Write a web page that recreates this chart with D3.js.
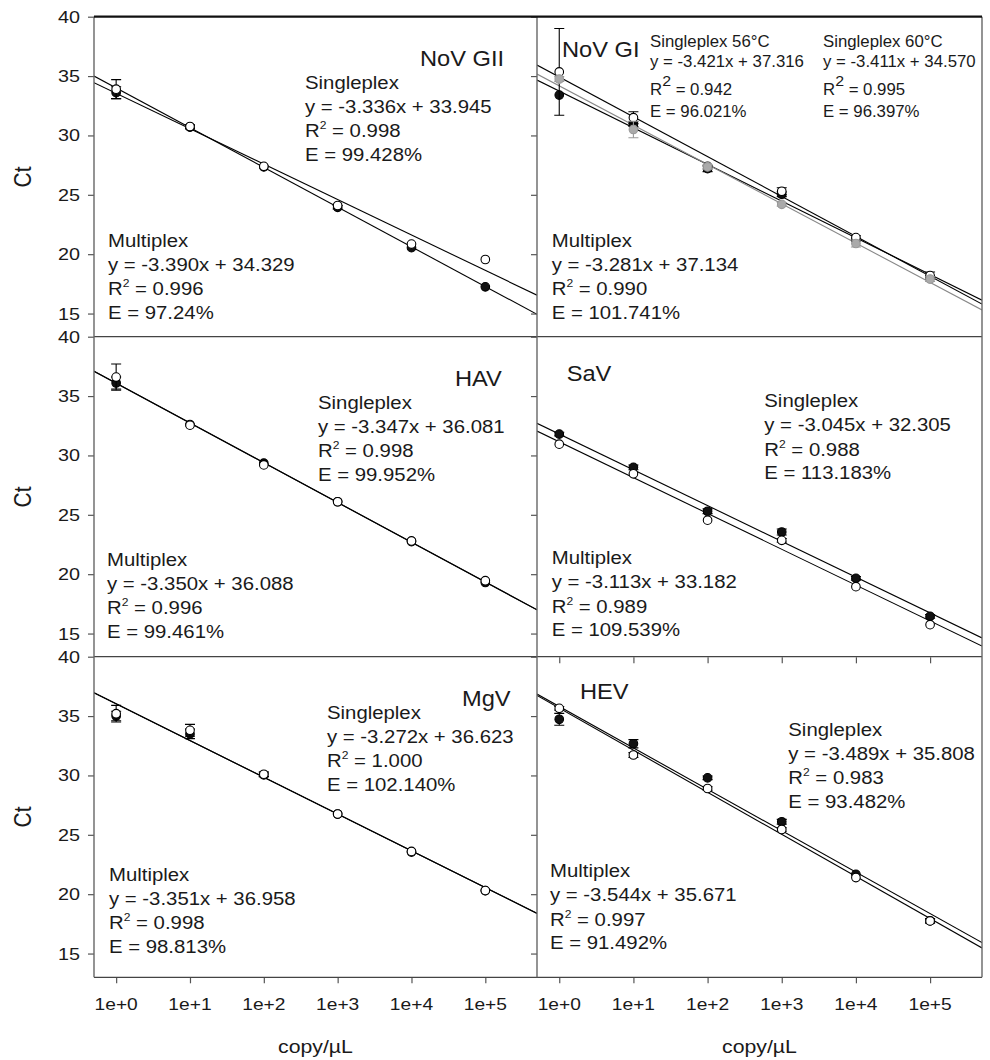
<!DOCTYPE html>
<meta charset="utf-8">
<style>
body { margin: 0; background: #fff; }
svg text { font-family: "Liberation Sans", Arial, sans-serif; fill: #1a1a1a; }
</style>
<script src="https://d3js.org/d3.v7.min.js"></script>
<body>
<svg id="chart" width="990" height="1060"></svg>
<script>
// x values (copy/uL) and axis ticks
var copies = [1, 10, 100, 1000, 10000, 100000];
var xTickLabels = ["1e+0", "1e+1", "1e+2", "1e+3", "1e+4", "1e+5"];
var ctTicks = [15, 20, 25, 30, 35, 40];

// NoV GII
var novGIIMulti = [33.6, 30.7, 27.35, 23.95, 20.55, 17.25];
var novGIIMultiErr = [0.5, 0.15, 0.1, 0.15, 0.1, 0.1];
var novGIISingle = [33.9, 30.75, 27.4, 24.1, 20.85, 19.55];
var novGIISingleErr = [0.8, 0.15, 0.1, 0.1, 0.1, 0.1];
var novGIIFits = [[-3.345, 34.0], [-2.983, 33.55]];   // [slope, intercept] as drawn

// NoV GI
var novGIMulti = [33.4, 30.95, 27.2, 25.05, 21.2, 18.05];
var novGIMultiErr = [0, 0.2, 0.25, 0.2, 0.1, 0.1];
var novGI56 = [35.35, 31.5, 27.4, 25.3, 21.4, 18.2];
var novGI56Err = [3.65, 0.5, 0.1, 0.3, 0.15, 0.3];
var novGI60 = [34.75, 30.5, 27.35, 24.2, 20.9, 17.9];
var novGI60Err = [0.2, 0.7, 0.2, 0.15, 0.3, 0.2];
var novGIFits = [[-3.09, 33.74], [-3.355, 34.92]];
var novGI60Fit = [-3.312, 34.18];

// HAV
var havMulti = [36.1, 32.6, 29.35, 26.1, 22.75, 19.3];
var havMultiErr = [0.5, 0.1, 0.1, 0.1, 0.1, 0.1];
var havSingle = [36.6, 32.55, 29.2, 26.1, 22.8, 19.45];
var havSingleErr = [1.1, 0.1, 0.1, 0.1, 0.1, 0.1];
var havFits = [[-3.350, 36.088], [-3.347, 36.081]];

// SaV
var savMulti = [31.8, 29.0, 25.3, 23.55, 19.65, 16.45];
var savMultiErr = [0.15, 0.2, 0.2, 0.25, 0.15, 0.15];
var savSingle = [30.95, 28.45, 24.55, 22.85, 18.95, 15.75];
var savSingleErr = [0.1, 0.1, 0.1, 0.15, 0.1, 0.1];
var savFits = [[-3.012, 31.8], [-3.018, 31.15]];

// MgV
var mgvMulti = [35.0, 33.5, 30.05, 26.75, 23.55, 20.3];
var mgvMultiErr = [0.4, 0.4, 0.15, 0.1, 0.1, 0.1];
var mgvSingle = [35.2, 33.8, 30.1, 26.75, 23.6, 20.3];
var mgvSingleErr = [0.7, 0.5, 0.2, 0.1, 0.1, 0.1];
var mgvFits = [[-3.098, 36.04], [-3.095, 36.03]];

// HEV
var hevMulti = [34.73, 32.67, 29.8, 26.1, 21.67, 17.75];
var hevMultiErr = [0.5, 0.35, 0.15, 0.2, 0.1, 0.15];
var hevSingle = [35.65, 31.72, 28.9, 25.45, 21.4, 17.75];
var hevSingleErr = [0.15, 0.2, 0.15, 0.15, 0.1, 0.2];
var hevFits = [[-3.544, 35.671], [-3.489, 35.808]];

// equation texts
var novGIIMultiText = ["Multiplex", "y = -3.390x + 34.329", "R2 = 0.996", "E = 97.24%"];
var novGIISingleText = ["Singleplex", "y = -3.336x + 33.945", "R2 = 0.998", "E = 99.428%"];
var novGIMultiText = ["Multiplex", "y = -3.281x + 37.134", "R2 = 0.990", "E = 101.741%"];
var novGI56Text = ["Singleplex 56°C", "y = -3.421x + 37.316", "R2 = 0.942", "E = 96.021%"];
var novGI60Text = ["Singleplex 60°C", "y = -3.411x + 34.570", "R2 = 0.995", "E = 96.397%"];
var havMultiText = ["Multiplex", "y = -3.350x + 36.088", "R2 = 0.996", "E = 99.461%"];
var havSingleText = ["Singleplex", "y = -3.347x + 36.081", "R2 = 0.998", "E = 99.952%"];
var savMultiText = ["Multiplex", "y = -3.113x + 33.182", "R2 = 0.989", "E = 109.539%"];
var savSingleText = ["Singleplex", "y = -3.045x + 32.305", "R2 = 0.988", "E = 113.183%"];
var mgvMultiText = ["Multiplex", "y = -3.351x + 36.958", "R2 = 0.998", "E = 98.813%"];
var mgvSingleText = ["Singleplex", "y = -3.272x + 36.623", "R2 = 1.000", "E = 102.140%"];
var hevMultiText = ["Multiplex", "y = -3.544x + 35.671", "R2 = 0.997", "E = 91.492%"];
var hevSingleText = ["Singleplex", "y = -3.489x + 35.808", "R2 = 0.983", "E = 93.482%"];

var BLACK = {fill: "#111", stroke: "#000", err: "#000"};
var WHITE = {fill: "#fff", stroke: "#000", err: "#000"};
var GRAY = {fill: "#aaa", stroke: "#999", err: "#999"};

var big = {size: 18.5, sx: 1.1, gaps: [0, 23.8, 48.5, 72], sup: 11, shift: 8};
var small = {size: 16.3, sx: 1.03, gaps: [0, 20.5, 48.3, 70], sup: 15.5, shift: 9.5};

var panels = [
  {name: "NoV GII", col: 0, row: 0, label: [326, 49], xTicks: false,
   series: [[novGIIMulti, novGIIMultiErr, BLACK], [novGIISingle, novGIISingleErr, WHITE]],
   fits: [[novGIIFits[0], "#000"], [novGIIFits[1], "#000"]],
   blocks: [[novGIIMultiText, 14, 230, big], [novGIISingleText, 211, 72, big]]},
  {name: "NoV GI", col: 1, row: 0, label: [25, 40.6], xTicks: false,
   series: [[novGIMulti, novGIMultiErr, BLACK], [novGI56, novGI56Err, WHITE], [novGI60, novGI60Err, GRAY]],
   fits: [[novGIFits[0], "#000"], [novGIFits[1], "#000"], [novGI60Fit, "#888"]],
   blocks: [[novGIMultiText, 14.7, 230, big], [novGI56Text, 113, 30, small], [novGI60Text, 286, 30, small]]},
  {name: "HAV", col: 0, row: 1, label: [361, 49.5], xTicks: false,
   series: [[havMulti, havMultiErr, BLACK], [havSingle, havSingleErr, WHITE]],
   fits: [[havFits[0], "#000"], [havFits[1], "#000"]],
   blocks: [[havMultiText, 13, 229, big], [havSingleText, 224, 72, big]]},
  {name: "SaV", col: 1, row: 1, label: [29.7, 44], xTicks: true,
   series: [[savMulti, savMultiErr, BLACK], [savSingle, savSingleErr, WHITE]],
   fits: [[savFits[0], "#000"], [savFits[1], "#000"]],
   blocks: [[savMultiText, 14.7, 227.3, big], [savSingleText, 227.3, 70.6, big]]},
  {name: "MgV", col: 0, row: 2, label: [368, 49.5], xTicks: true,
   series: [[mgvMulti, mgvMultiErr, BLACK], [mgvSingle, mgvSingleErr, WHITE]],
   fits: [[mgvFits[0], "#000"], [mgvFits[1], "#000"]],
   blocks: [[mgvMultiText, 15, 224, big], [mgvSingleText, 233, 62, big]]},
  {name: "HEV", col: 1, row: 2, label: [43, 42.6], xTicks: true,
   series: [[hevMulti, hevMultiErr, BLACK], [hevSingle, hevSingleErr, WHITE]],
   fits: [[hevFits[0], "#000"], [hevFits[1], "#000"]],
   blocks: [[hevMultiText, 13, 220.6, big], [hevSingleText, 251.3, 79, big]]}
];

var colX = [94, 537], colW = [443, 445];
var rowTop = [16.7, 336.7, 656.7], panelH = 320.6;

var svg = d3.select("#chart");

function stretched(parent, x, y, size, sx) {
  return parent.append("text")
    .attr("transform", "translate(" + x + "," + y + ") scale(" + sx + ",1)")
    .style("font-size", size + "px");
}

function eqLine(parent, x, y, str, st) {
  var t = stretched(parent, x, y, st.size, st.sx);
  if (str.indexOf("R2") === 0) {
    t.append("tspan").text("R");
    t.append("tspan").attr("dy", -st.shift).style("font-size", st.sup + "px").text("2");
    t.append("tspan").attr("dy", st.shift).text(str.slice(2));
  } else {
    t.text(str);
  }
}

panels.forEach(function(p, i) {
  var x0 = colX[p.col], w = colW[p.col], top = rowTop[p.row];
  var x = d3.scaleLog().domain([Math.pow(10, -0.3), Math.pow(10, 5.7)]).range([x0, x0 + w]);
  var y = d3.scaleLinear().domain([13, 40]).range([top + panelH, top]);
  var g = svg.append("g");

  svg.append("clipPath").attr("id", "clip" + i)
    .append("rect").attr("x", x0).attr("y", top).attr("width", w).attr("height", panelH);

  // y ticks
  var yAxis = d3.axisLeft(y).tickValues(ctTicks).tickSize(6).tickFormat("");
  var ya = g.append("g").attr("transform", "translate(" + x0 + ",0)").call(yAxis);
  ya.select(".domain").remove();
  ya.selectAll("line").attr("stroke", "#555").attr("stroke-width", 1.2);
  if (p.col === 0) {
    ctTicks.forEach(function(v) {
      stretched(g, 80, y(v) + 6, 16.5, 1.2).attr("text-anchor", "end").text(v);
    });
  }

  // x ticks
  if (p.xTicks) {
    var xAxis = d3.axisBottom(x).tickValues(copies).tickSize(6).tickFormat("");
    var xa = g.append("g").attr("transform", "translate(0," + (top + panelH) + ")").call(xAxis);
    xa.select(".domain").remove();
    xa.selectAll("line").attr("stroke", "#555").attr("stroke-width", 1.2);
  }
  if (p.row === 2) {
    copies.forEach(function(c, k) {
      stretched(g, x(c), 1010, 17, 1.13).attr("text-anchor", "middle").text(xTickLabels[k]);
    });
    stretched(g, x0 + w / 2, 1053, 18.5, 1.15).attr("text-anchor", "middle").text("copy/µL");
  }
  if (p.col === 0) {
    g.append("text")
      .attr("transform", "translate(31," + (top + panelH / 2) + ") scale(1.12,1) rotate(-90)")
      .attr("text-anchor", "middle").style("font-size", "21px").text("Ct");
  }

  // fitted lines
  var plot = g.append("g").attr("clip-path", "url(#clip" + i + ")");
  var line = d3.line().x(function(d) { return x(d[0]); }).y(function(d) { return y(d[1]); });
  p.fits.forEach(function(f) {
    var ends = x.domain().map(function(c) { return [c, f[0][0] * Math.log10(c) + f[0][1]]; });
    plot.append("path").attr("d", line(ends)).attr("fill", "none")
      .attr("stroke", f[1]).attr("stroke-width", 1.1);
  });

  // error bars and points
  p.series.forEach(function(s) {
    var vals = s[0], errs = s[1], st = s[2];
    var pts = copies.map(function(c, k) { return {c: c, v: vals[k], e: errs[k]}; });
    var eb = plot.append("g").attr("stroke", st.err).attr("stroke-width", 1.1);
    pts.filter(function(d) { return d.e > 0.12; }).forEach(function(d) {
      var cx = x(d.c);
      eb.append("line").attr("x1", cx).attr("x2", cx).attr("y1", y(d.v + d.e)).attr("y2", y(d.v - d.e));
      [d.v + d.e, d.v - d.e].forEach(function(v) {
        eb.append("line").attr("x1", cx - 5).attr("x2", cx + 5).attr("y1", y(v)).attr("y2", y(v));
      });
    });
    plot.append("g").selectAll("circle").data(pts).join("circle")
      .attr("cx", function(d) { return x(d.c); })
      .attr("cy", function(d) { return y(d.v); })
      .attr("r", 4.3)
      .attr("fill", st.fill).attr("stroke", st.stroke).attr("stroke-width", 1.1);
  });

  // labels
  stretched(g, x0 + p.label[0], top + p.label[1], 21.5, 1.1).text(p.name);
  p.blocks.forEach(function(b) {
    b[0].forEach(function(str, k) {
      eqLine(g, x0 + b[1], top + b[2] + b[3].gaps[k], str, b[3]);
    });
  });
});

// frame
var frame = svg.append("g").attr("fill", "none");
var right = colX[1] + colW[1], bottom = rowTop[2] + panelH;
[rowTop[1], rowTop[2], bottom].forEach(function(yy) {
  frame.append("line").attr("x1", colX[0]).attr("x2", right).attr("y1", yy).attr("y2", yy)
    .attr("stroke", "#444").attr("stroke-width", 1.3);
});
[colX[0], colX[1], right].forEach(function(xx) {
  frame.append("line").attr("x1", xx).attr("x2", xx).attr("y1", rowTop[0]).attr("y2", bottom)
    .attr("stroke", "#666").attr("stroke-width", 1.4);
});
frame.append("line").attr("x1", colX[0]).attr("x2", right).attr("y1", rowTop[0]).attr("y2", rowTop[0])
  .attr("stroke", "#111").attr("stroke-width", 2.2);
</script>
</body>
